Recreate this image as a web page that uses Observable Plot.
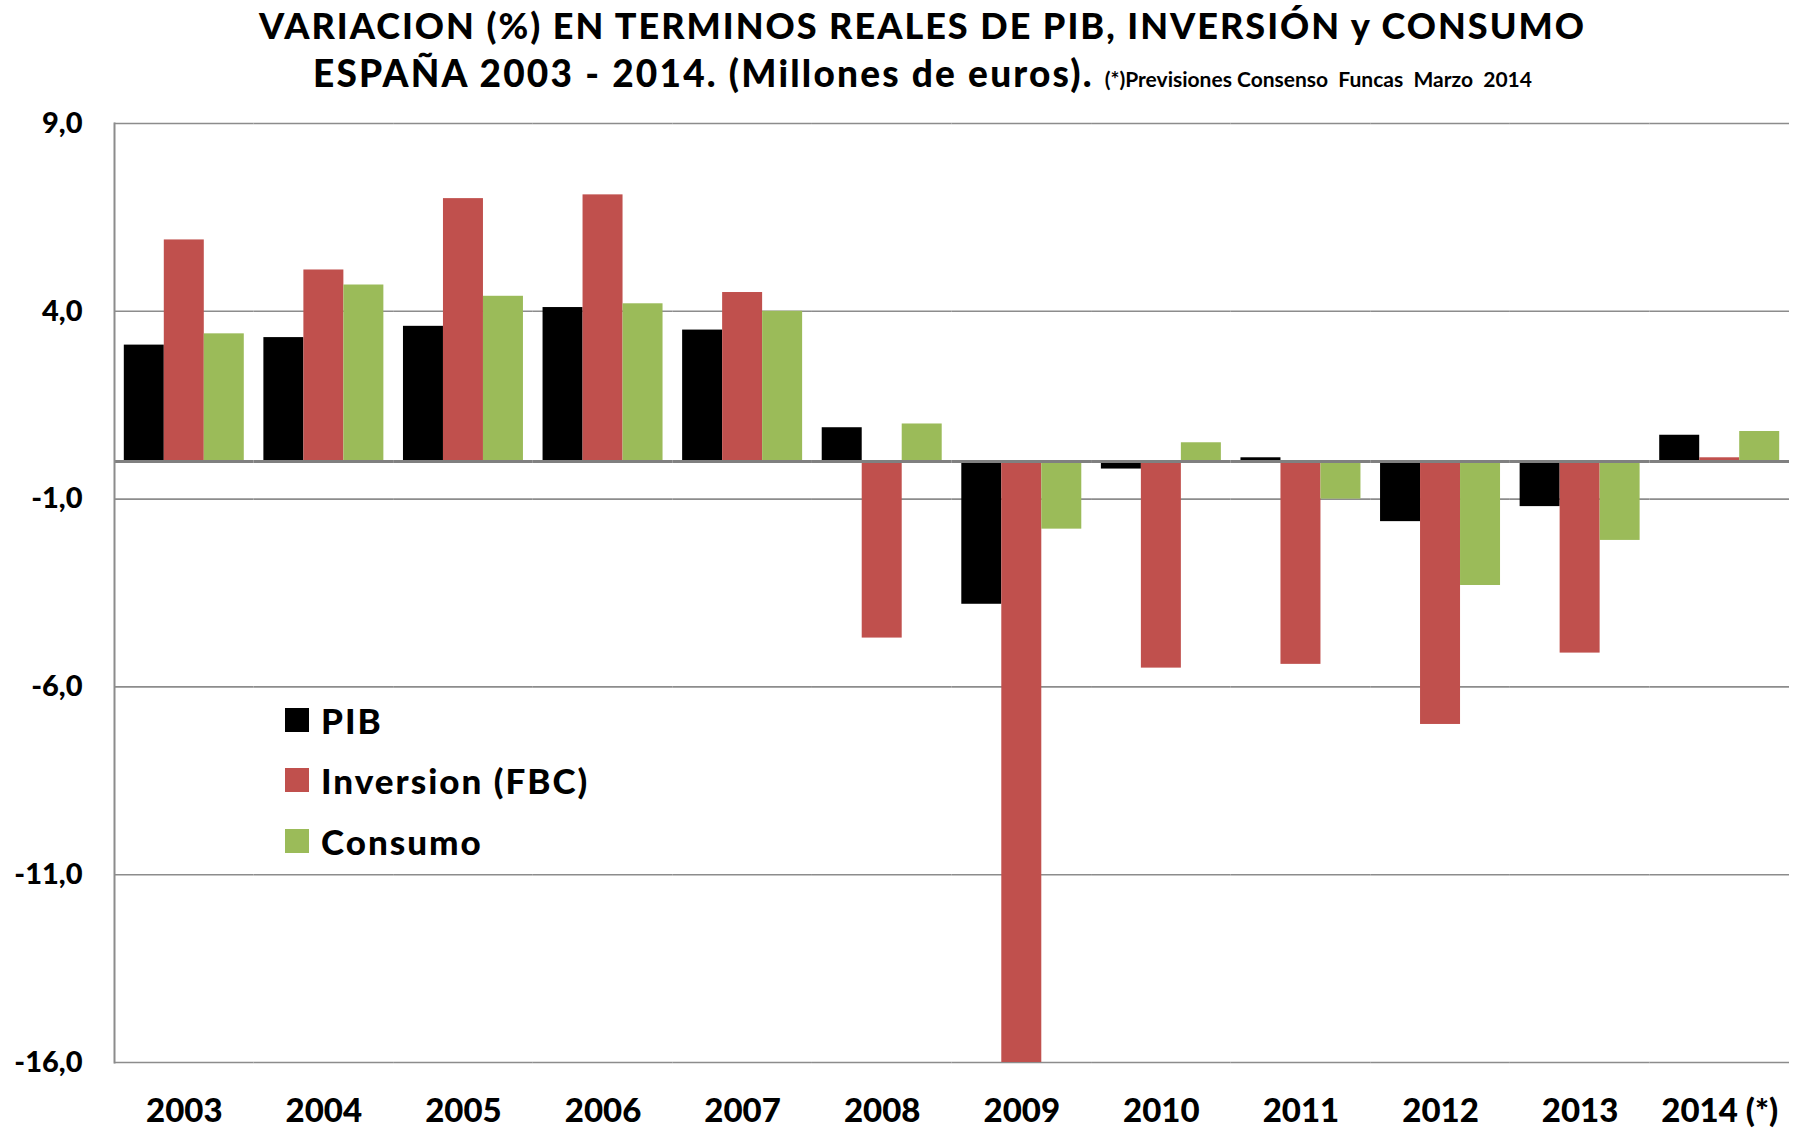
<!DOCTYPE html>
<html>
<head>
<meta charset="utf-8">
<script src="https://cdn.jsdelivr.net/npm/d3@7"></script>
<script src="https://cdn.jsdelivr.net/npm/@observablehq/plot@0.6"></script>
<style>
  html, body { margin: 0; padding: 0; background: #fff; }
  #wrap { position: relative; width: 1796px; height: 1129px; font-family: Lato, "Open Sans", sans-serif; color: #000; overflow: hidden; }
  .tline { position: absolute; left: 0; width: 1845px; text-align: center; font-weight: 900; line-height: 44px; height: 44px; white-space: nowrap; }
  .tline .note { font-size: 21px; font-weight: 700; letter-spacing: 0; }
  #chart { position: absolute; left: 0; top: 100px; }
  .lrow { position: absolute; left: 285px; height: 40px; line-height: 40px; display: flex; align-items: center; font-weight: 900; font-size: 35px; letter-spacing: 2px; white-space: nowrap; }
  .lrow .sw { width: 24px; height: 24px; margin-right: 12px; flex: none; }
</style>
</head>
<body>
<div id="wrap">
  <div class="tline" style="top:3px; font-size:36px; letter-spacing:2px">VARIACION (%) EN TERMINOS REALES DE PIB, INVERSIÓN y CONSUMO</div>
  <div class="tline" style="top:51px; font-size:37px; letter-spacing:2.2px">ESPAÑA 2003 - 2014. (Millones de euros). <span class="note">(*)Previsiones Consenso&nbsp; Funcas&nbsp; Marzo&nbsp; 2014</span></div>
  <div id="chart"></div>
  <div id="legend"></div>
</div>
<script>
const years = ["2003", "2004", "2005", "2006", "2007", "2008", "2009", "2010", "2011", "2012", "2013", "2014 (*)"];
const series = ["PIB", "Inversion (FBC)", "Consumo"];
const colors = ["#000000", "#C0504D", "#9BBB59"];
const pib       = [3.1, 3.3, 3.6, 4.1, 3.5, 0.9, -3.8, -0.2, 0.1, -1.6, -1.2, 0.7];
const inversion = [5.9, 5.1, 7.0, 7.1, 4.5, -4.7, -16.0, -5.5, -5.4, -7.0, -5.1, 0.1];
const consumo   = [3.4, 4.7, 4.4, 4.2, 4.0, 1.0, -1.8, 0.5, -1.0, -3.3, -2.1, 0.8];
const yTicks = [9, 4, -1, -6, -11, -16];

const valuesBySeries = [pib, inversion, consumo];
const data = [];
years.forEach((year, i) => {
  series.forEach((s, j) => data.push({year, series: s, value: valuesBySeries[j][i]}));
});

const fmt = d => d.toFixed(1).replace(".", ",");

const chart = Plot.plot({
  width: 1796,
  height: 1029,
  marginTop: 23,
  marginBottom: 67,
  marginLeft: 114,
  marginRight: 7,
  style: {fontFamily: "Lato, 'Open Sans', sans-serif", color: "#000", background: "#fff"},
  fx: {domain: years, padding: 0, round: false},
  x: {domain: series, paddingInner: 0, paddingOuter: 0.245, round: false, axis: null},
  y: {domain: [-16, 9]},
  color: {domain: series, range: colors},
  marks: [
    Plot.ruleY(yTicks, {stroke: "#8c8c8c", strokeWidth: 1.6}),
    Plot.barY(data, {fx: "year", x: "series", y: "value", fill: "series"}),
    Plot.ruleY([0], {stroke: "#808080", strokeWidth: 3}),
    Plot.frame({anchor: "left", fx: ["2003"], stroke: "#8c8c8c", strokeWidth: 2}),
    Plot.axisY({ticks: yTicks, tickSize: 0, tickPadding: 32, tickFormat: fmt, fontSize: 29, fontWeight: "900", label: null}),
    Plot.axisFx({anchor: "bottom", tickSize: 0, tickPadding: 36, fontSize: 33, fontWeight: "900", label: null})
  ]
});
document.getElementById("chart").appendChild(chart);

const legend = document.getElementById("legend");
const rowTops = [700, 760, 821];
series.forEach((s, j) => {
  const row = document.createElement("div");
  row.className = "lrow";
  row.style.top = rowTops[j] + "px";
  const sw = document.createElement("span");
  sw.className = "sw";
  sw.style.background = colors[j];
  const t = document.createElement("span");
  t.textContent = s;
  row.appendChild(sw);
  row.appendChild(t);
  legend.appendChild(row);
});
</script>
</body>
</html>
